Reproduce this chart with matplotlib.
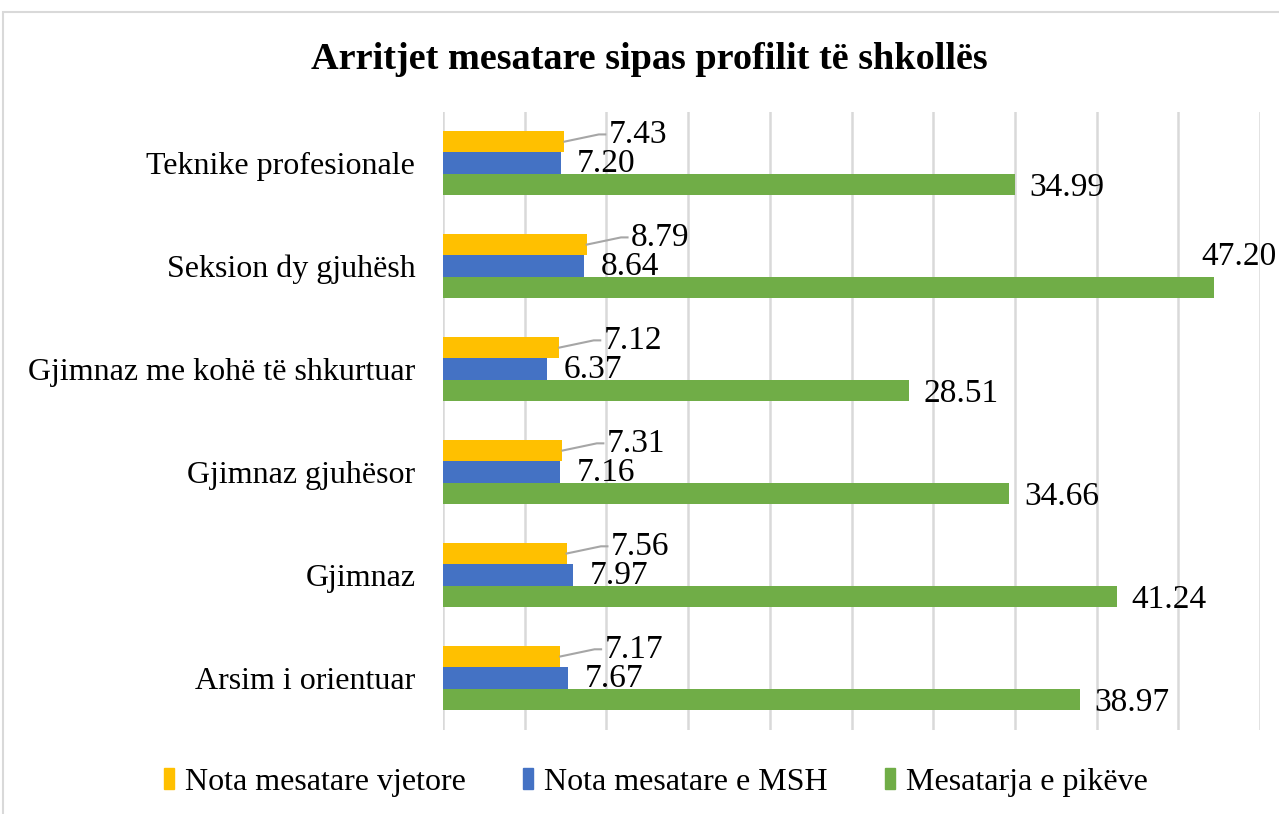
import matplotlib.pyplot as plt
import numpy as np
from matplotlib.patches import Rectangle

plt.rcParams['font.family'] = ['Liberation Serif', 'DejaVu Serif']

# data (top to bottom as in the chart)
categories = ['Teknike profesionale', 'Seksion dy gjuhësh', 'Gjimnaz me kohë të shkurtuar',
              'Gjimnaz gjuhësor', 'Gjimnaz', 'Arsim i orientuar']
nota_vjetore = [7.43, 8.79, 7.12, 7.31, 7.56, 7.17]
nota_msh = [7.20, 8.64, 6.37, 7.16, 7.97, 7.67]
mesatarja_pikeve = [34.99, 47.20, 28.51, 34.66, 41.24, 38.97]
series_names = ['Nota mesatare vjetore', 'Nota mesatare e MSH', 'Mesatarja e pikëve']
colors = ['#FFC000', '#4472C4', '#70AD47']

fig = plt.figure(figsize=(12.79, 8.14), dpi=100)
ax = fig.add_axes([0.3464, 0.1038, 0.6388, 0.759])

n = len(categories)
y = np.arange(n)[::-1]  # first category on top
h = 0.209
xmax = 50

ax.barh(y + h, nota_vjetore, height=h, color=colors[0], zorder=3)
ax.barh(y, nota_msh, height=h, color=colors[1], zorder=3)
ax.barh(y - h, mesatarja_pikeve, height=h, color=colors[2], zorder=3)

fs = 23
fs_lab = 24
# yellow labels with leader lines
for yi, v in zip(y, nota_vjetore):
    yc = yi + h
    yt = yc + 0.07
    ax.plot([v, v + 2.1, v + 2.5], [yc, yt, yt], color='#A6A6A6', lw=1.5, zorder=4)
    ax.text(v + 2.7, yt, f'{v:.2f}', fontsize=fs_lab, va='center', ha='left', zorder=5)
for yi, v in zip(y, nota_msh):
    ax.text(v + 1.0, yi - 0.01, f'{v:.2f}', fontsize=fs_lab, va='center', ha='left', zorder=5)
for yi, v in zip(y, mesatarja_pikeve):
    if v + 5 > xmax:
        # label does not fit to the right, placed above the bar end
        ax.text(xmax + 1.0, yi - h + 0.3, f'{v:.2f}', fontsize=fs_lab, va='center', ha='right', zorder=5)
    else:
        ax.text(v + 0.9, yi - h - 0.03, f'{v:.2f}', fontsize=fs_lab, va='center', ha='left', zorder=5)

ax.set_xlim(0, xmax)
ax.set_ylim(-0.5, n - 0.5)
ax.set_xticks(np.arange(0, xmax + 1, 5))
ax.set_xticklabels([])
ax.set_yticks(y)
ax.set_yticklabels(categories, fontsize=fs)
ax.tick_params(axis='both', length=0)
ax.tick_params(axis='y', pad=20)
ax.grid(axis='x', color='#D9D9D9', lw=1.8, zorder=0)
for s in ax.spines.values():
    s.set_visible(False)

fig.suptitle('Arritjet mesatare sipas profilit të shkollës', fontsize=27.5, fontweight='bold',
             x=0.508, y=0.927, va='center')

handles = [Rectangle((0, 0), 1, 1, color=c) for c in colors]
fig.legend(handles, series_names, loc='center', bbox_to_anchor=(0.513, 0.039), ncol=3,
           frameon=False, fontsize=fs, handlelength=0.3, handleheight=0.6,
           handletextpad=0.35, columnspacing=1.8)

# outer chart border
fig.add_artist(Rectangle((3 / 1279, -0.1), 1.2, 1 - 12 / 814 + 0.1, transform=fig.transFigure,
                         fill=False, edgecolor='#D9D9D9', lw=1.5))

fig.savefig('out.png', dpi=100)
